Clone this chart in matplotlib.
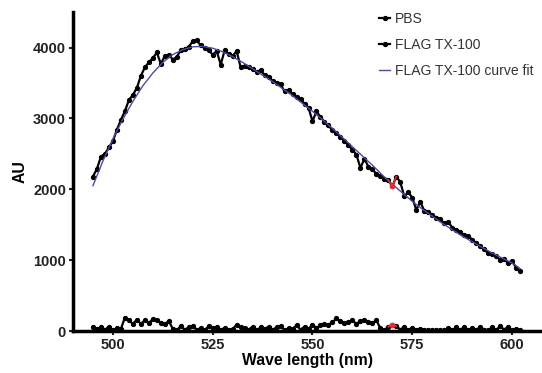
# -*- coding: utf-8 -*-

import matplotlib.pyplot as plt
import numpy as np

# wavelengths, 1 nm steps
wave = list(range(495, 603))

# FLAG TX-100 signal (AU)
flag = [2180, 2290, 2460, 2500, 2590, 2680, 2840, 2980, 3100, 3260,
        3330, 3430, 3600, 3720, 3790, 3850, 3930, 3770, 3880, 3900,
        3830, 3870, 3960, 3980, 4010, 4090, 4100, 4030, 3990, 3960,
        3900, 3950, 3760, 3960, 3910, 3880, 3950, 3720, 3740, 3720,
        3690, 3660, 3680, 3610, 3580, 3530, 3500, 3480, 3380, 3400,
        3340, 3300, 3270, 3210, 3150, 2960, 3100, 3020, 2950, 2900,
        2830, 2800, 2740, 2680, 2620, 2560, 2490, 2300, 2430, 2320,
        2280, 2220, 2190, 2150, 2130, 2040, 2180, 2100, 1900, 1960,
        1880, 1710, 1820, 1700, 1680, 1640, 1600, 1580, 1520, 1540,
        1460, 1430, 1400, 1350, 1340, 1290, 1240, 1200, 1150, 1100,
        1090, 1060, 1000, 1010, 960, 990, 890, 840]

# PBS signal (AU)
pbs = [60, 30, 50, 20, 60, 10, 40, 30, 190, 150,
       100, 160, 100, 150, 110, 170, 160, 110, 100, 140,
       30, 10, 70, 20, 50, 70, 20, 40, 10, 70,
       40, 50, 20, 40, 10, 30, 90, 50, 40, 20,
       60, 10, 50, 30, 60, 20, 50, 70, 10, 40,
       30, 80, 20, 60, 30, 90, 40, 80, 100, 90,
       120, 180, 140, 110, 130, 150, 100, 140, 160, 130,
       110, 150, 40, 10, 60, 90, 70, 20, 60, 10,
       40, 20, 30, 20, 10, 20, 10, 20, 10, 40,
       10, 50, 10, 60, 10, 40, 10, 60, 20, 10,
       50, 10, 70, 20, 60, 10, 30, 10]

# curve fit of FLAG TX-100
fit_wave = [495, 497.5, 500, 502.5, 505, 507.5, 510, 512.5, 515, 517.5,
            520, 522.5, 525, 527.5, 530, 532.5, 535, 537.5, 540, 542.5,
            545, 547.5, 550, 552.5, 555, 557.5, 560, 562.5, 565, 567.5,
            570, 572.5, 575, 577.5, 580, 582.5, 585, 587.5, 590, 592.5,
            595, 597.5, 600, 602]
fit = [2050, 2400, 2710, 2990, 3240, 3460, 3640, 3790, 3900, 3970,
       4010, 4015, 3990, 3940, 3870, 3790, 3700, 3610, 3520, 3420,
       3320, 3210, 3100, 2980, 2860, 2730, 2600, 2470, 2340, 2200,
       2070, 1950, 1830, 1720, 1620, 1520, 1430, 1340, 1260, 1180,
       1100, 1030, 960, 880]

red_wave = 570

plt.rcParams['font.family'] = ['Liberation Sans', 'DejaVu Sans']
fig = plt.figure(figsize=(5.42, 3.73), dpi=100)
ax = fig.add_axes([0.1347, 0.1126, 0.8653, 0.855])

ax.plot(wave, pbs, color="black", lw=1.6, marker="o", ms=2.8, label="PBS")
ax.plot(wave, flag, color="black", lw=1.6, marker="o", ms=2.8, label="FLAG TX-100")
ax.plot(fit_wave, fit, color="#4b4ba8", lw=1.0, label="FLAG TX-100 curve fit")

# red highlighted points
i = wave.index(red_wave)
for series in (flag, pbs):
    ax.plot(wave[i-1:i+2], series[i-1:i+2], color="#e0303a", lw=1.2, zorder=3)
    ax.plot(wave[i], series[i], color="#e0303a", marker="o", ms=3, zorder=4)

ax.set_xlim(490, 607.5)
ax.set_ylim(0, 4500)
ax.set_xticks([500, 525, 550, 575, 600])
ax.set_yticks([0, 1000, 2000, 3000, 4000])
ax.spines["top"].set_visible(False)
ax.spines["right"].set_visible(False)
ax.spines["left"].set_linewidth(2.5)
ax.spines["bottom"].set_linewidth(2.5)
ax.tick_params(width=1.5, length=3, pad=2, labelsize=10.5, colors="#222222")
for lab in ax.get_xticklabels() + ax.get_yticklabels():
    lab.set_fontweight("bold")
ax.set_xlabel("Wave length (nm)", fontsize=11.3, fontweight="bold", labelpad=1)
ax.set_ylabel("AU", fontsize=11.3, fontweight="bold", labelpad=4)

fig.legend(loc="upper left", bbox_to_anchor=(0.70, 0.968), frameon=False,
           fontsize=10, handlelength=0.75, handletextpad=0.4, labelspacing=0.85,
           numpoints=1, borderpad=0, borderaxespad=0, labelcolor="#333333")

plt.savefig("out.png", dpi=100)
